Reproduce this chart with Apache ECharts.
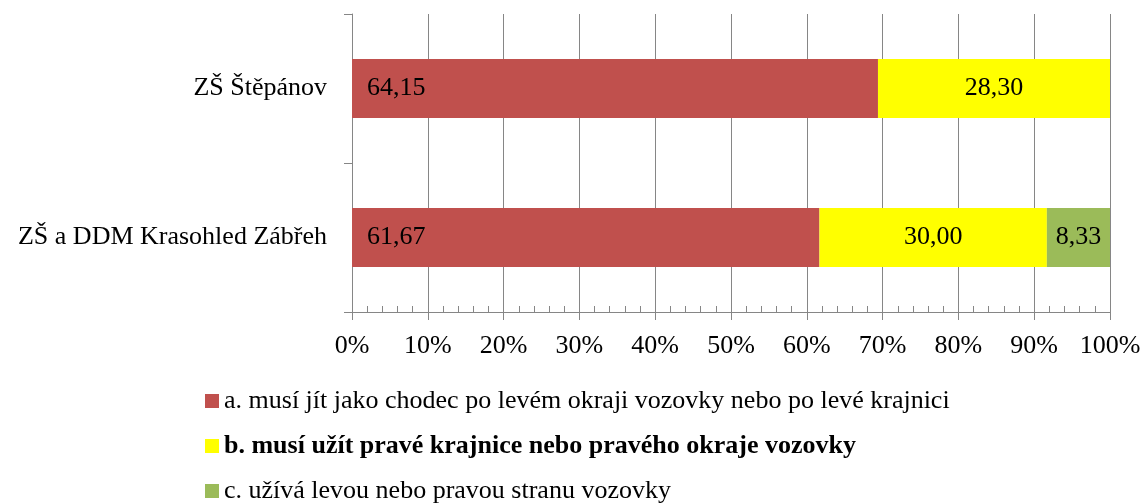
<!DOCTYPE html>
<html lang="cs">
<head>
    <meta charset="utf-8" />
    <title>Graf</title>
    <script src="https://cdn.jsdelivr.net/npm/echarts@6/dist/echarts.min.js"></script>
    <style>
        body { margin: 0; padding: 0; background: #fff; }
        #main { width: 1140px; height: 504px; }
    </style>
</head>
<body>
<div id="main"></div>
<script type="text/javascript">
    // Data
    const categories = ['ZŠ Štěpánov', 'ZŠ a DDM Krasohled Zábřeh'];
    const seriesNames = [
        'a. musí jít jako chodec po levém okraji vozovky nebo po levé krajnici',
        'b. musí užít pravé krajnice nebo pravého okraje vozovky',
        'c. užívá levou nebo pravou stranu vozovky'
    ];
    const valuesA = [64.15, 61.67];
    const valuesB = [28.30, 30.00];
    const valuesC = [null, 8.33];
    const xTicks = [0, 10, 20, 30, 40, 50, 60, 70, 80, 90, 100];

    const colors = ['#C0504D', '#FFFF00', '#9BBB59'];
    const axisGray = '#868686';
    const font = '"Liberation Serif", "Times New Roman", serif';
    const fs = 26;

    // 100% stacked: share of each category total, labels keep the raw value
    const totals = categories.map((c, i) =>
        [valuesA, valuesB, valuesC].reduce((s, arr) => s + (arr[i] || 0), 0));
    const toShares = arr => arr.map((v, i) =>
        v == null ? null : { value: v / totals[i] * 100, raw: v });

    const labelFmt = p => p.data && p.data.raw != null ? p.data.raw.toFixed(2).replace('.', ',') : '';

    // one legend per row so the column never wraps
    const legendRow = (i, top, bold) => ({
        orient: 'vertical',
        left: 205,
        top: top,
        padding: 0,
        itemWidth: 14,
        itemHeight: 14,
        icon: 'rect',
        textStyle: { fontFamily: font, fontSize: fs, color: '#000', fontWeight: bold ? 'bold' : 'normal' },
        data: [seriesNames[i]]
    });

    var myChart = echarts.init(document.getElementById('main'));

    var option = {
        backgroundColor: '#FFFFFF',
        animation: false,
        textStyle: { fontFamily: font },
        grid: { left: 352, right: 30, top: 14, bottom: 192, outerBoundsMode: 'none' },
        legend: [
            legendRow(0, 388, false),
            legendRow(1, 433, true),
            legendRow(2, 478, false)
        ],
        xAxis: [
            {
                type: 'value',
                min: xTicks[0],
                max: xTicks[xTicks.length - 1],
                interval: 10,
                axisLine: { show: true, lineStyle: { color: axisGray, width: 1 } },
                axisTick: { show: true, inside: true, length: 6, lineStyle: { color: axisGray } },
                minorTick: { show: true, splitNumber: 5, length: 6, lineStyle: { color: axisGray } },
                splitLine: { show: true, lineStyle: { color: axisGray, width: 1 } },
                axisLabel: {
                    formatter: '{value}%',
                    fontFamily: font,
                    fontSize: fs,
                    color: '#000',
                    margin: 21
                }
            },
            {
                type: 'value',
                position: 'bottom',
                min: xTicks[0],
                max: xTicks[xTicks.length - 1],
                interval: 10,
                axisLine: { show: false },
                axisTick: { show: true, length: 8, lineStyle: { color: axisGray } },
                splitLine: { show: false },
                axisLabel: { show: false }
            }
        ],
        yAxis: {
            type: 'category',
            data: categories,
            inverse: true,
            axisLine: { show: true, lineStyle: { color: axisGray, width: 1 } },
            axisTick: { show: true, length: 8, lineStyle: { color: axisGray } },
            axisLabel: { fontFamily: font, fontSize: fs, color: '#000', margin: 25 }
        },
        series: [
            {
                name: seriesNames[0],
                type: 'bar',
                stack: 'total',
                barWidth: 59,
                data: toShares(valuesA),
                itemStyle: { color: colors[0] },
                label: {
                    show: true, position: 'insideLeft', distance: 15,
                    formatter: labelFmt, fontFamily: font, fontSize: fs, color: '#000'
                }
            },
            {
                name: seriesNames[1],
                type: 'bar',
                stack: 'total',
                barWidth: 59,
                data: toShares(valuesB),
                itemStyle: { color: colors[1] },
                label: {
                    show: true, position: 'inside',
                    formatter: labelFmt, fontFamily: font, fontSize: fs, color: '#000'
                }
            },
            {
                name: seriesNames[2],
                type: 'bar',
                stack: 'total',
                barWidth: 59,
                data: toShares(valuesC),
                itemStyle: { color: colors[2] },
                label: {
                    show: true, position: 'inside',
                    formatter: labelFmt, fontFamily: font, fontSize: fs, color: '#000'
                }
            }
        ]
    };

    myChart.setOption(option);
</script>
</body>
</html>
